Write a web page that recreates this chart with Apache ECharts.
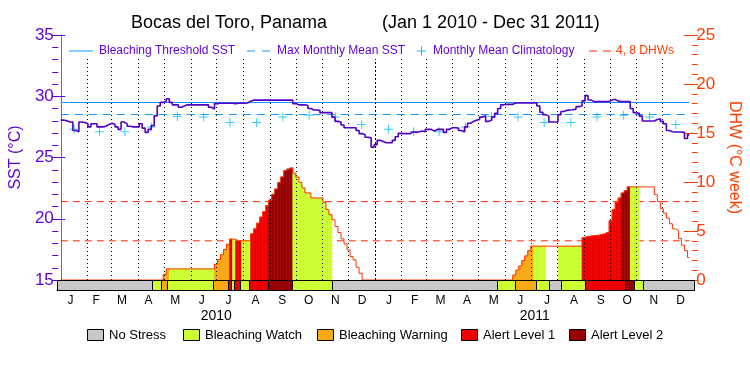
<!DOCTYPE html>
<html><head><meta charset="utf-8">
<script src="https://cdn.jsdelivr.net/npm/echarts@6/dist/echarts.min.js"></script>
<style>html,body{margin:0;padding:0;background:#fff}#chart{width:750px;height:375px}</style>
</head><body><div id="chart"></div>
<script>
// ---------------- data (twice-weekly samples from 2010-01-01) ----------------
const sampleStepDays = 3.5;
const totalDays = 730;
const sst = [
28.05,28.0,27.9,27.9,27.2,27.1,27.9,27.85,27.75,27.5,
27.75,27.75,27.5,27.5,27.55,27.7,27.8,27.7,27.5,27.3,
27.9,27.75,27.55,27.5,27.5,27.5,27.75,27.4,27.05,27.3,
27.6,28.4,29.2,29.5,29.6,29.8,29.5,29.3,29.3,29.1,
29.2,29.3,29.3,29.3,29.3,29.3,29.3,29.3,29.3,29.1,
28.95,29.4,29.43,29.43,29.43,29.43,29.43,29.4,29.43,29.43,
29.43,29.45,29.6,29.68,29.68,29.68,29.68,29.68,29.68,29.68,
29.68,29.68,29.68,29.68,29.68,29.68,29.68,29.4,29.3,29.3,
29.3,29.25,29.0,28.88,28.88,28.85,28.66,28.66,28.66,28.66,
28.3,27.95,27.9,27.65,27.43,27.43,27.43,27.43,27.2,26.95,
26.85,26.65,26.6,25.85,26.05,26.4,26.3,26.2,26.2,26.2,
26.4,26.7,26.97,26.95,26.95,26.95,27.1,27.05,27.1,27.16,
27.1,27.3,27.3,27.15,27.3,27.3,27.3,27.05,27.3,27.43,
27.43,27.4,27.2,27.08,27.5,27.8,27.95,28.05,28.1,28.3,
28.4,27.95,28.05,28.3,28.6,29.0,29.3,29.34,29.34,29.34,
29.45,29.45,29.45,29.45,29.45,29.45,29.45,29.45,29.2,28.7,
28.5,28.38,27.9,27.9,27.9,28.5,28.75,28.85,28.88,28.9,
28.95,29.15,29.2,29.62,30.05,29.7,29.56,29.56,29.56,29.56,
29.56,29.56,29.7,29.75,29.6,29.56,29.56,29.56,29.56,29.0,
28.66,28.6,28.38,27.98,27.98,27.98,27.98,28.1,28.17,27.95,
27.75,27.2,27.1,27.08,27.08,27.08,27.05,26.55,26.85
];
const dhw = [
0,0,0,0,0,0,0,0,0,0, 0,0,0,0,0,0,0,0,0,0, 0,0,0,0,0,0,0,0,0,0,
0,0,0,0,0.58,1.13,1.13,1.13,1.13,1.13, 1.13,1.13,1.13,1.13,1.13,1.13,1.13,1.13,1.13,1.13,
1.13,1.6,2.1,2.6,3.1,3.65,4.17,4.17,4.0,4.0, 4.0,4.0,4.0,4.71,5.22,5.8,6.42,6.97,7.58,8.16,
8.74,9.29,9.94,10.52,11.17,11.34,11.44,10.9,10.5,9.97, 9.4,8.88,8.88,8.37,8.37,8.37,8.37,7.92,7.17,6.66,
6.15,5.46,4.85,4.2,3.69,3.07,2.39,2.05,1.3,0.69,
0,0,0,0,0,0,0,0,0,0, 0,0,0,0,0,0,0,0,0,0, 0,0,0,0,0,0,0,0,0,0,
0,0,0,0,0,0,0,0,0,0, 0,0,0,0,0,0,0,0,0,0,
0.51,0.99,1.43,1.98,2.46,3.0,3.45,3.45,3.45,3.45, 3.45,3.45,3.45,3.45,3.45,3.45,3.45,3.45,3.45,3.45,
3.45,3.45,3.45,4.34,4.4,4.47,4.51,4.54,4.58,4.65, 4.71,4.85,6.04,7.17,7.92,8.37,8.88,9.12,9.5,9.5,
9.5,9.5,9.5,9.5,9.5,9.5,9.5,8.7,8.02,7.27, 6.83,6.32,5.74,5.22,5.05,4.23,3.55,3.0,2.3
];
// 0 No Stress, 1 Bleaching Watch, 2 Bleaching Warning, 3 Alert Level 1, 4 Alert Level 2
const alertStatus = [
0,0,0,0,0,0,0,0,0,0, 0,0,0,0,0,0,0,0,0,0, 0,0,0,0,0,0,0,0,0,0,
0,1,1,1,2,2,1,1,1,1, 1,1,1,1,1,1,1,1,1,1, 1,2,2,2,2,2,3,1,3,3,
1,1,1,3,3,3,3,3,3,4, 4,4,4,4,4,4,4,1,1,1, 1,1,1,1,1,1,1,1,1,1,
0,0,0,0,0,0,0,0,0,0, 0,0,0,0,0,0,0,0,0,0, 0,0,0,0,0,0,0,0,0,0,
0,0,0,0,0,0,0,0,0,0, 0,0,0,0,0,0,0,0,0,0, 0,0,0,0,1,1,1,1,1,1,
2,2,2,2,2,2,2,1,1,1, 1,0,0,0,0,1,1,1,1,1, 1,1,1,3,3,3,3,3,3,3,
3,3,3,3,3,3,4,4,4,1, 1,1,0,0,0,0,0,0,0,0, 0,0,0,0,0,0,0,0,0
];
const climatology = [27.3,27.1,27.1,27.5,28.35,28.3,27.85,27.85,28.3,28.45,28.3,27.7];
const bleachingThreshold = 29.5;
const maxMonthlyMean = 28.5;
const dhwRefLevels = [4, 8];
const monthLetters = ['J','F','M','A','M','J','J','A','S','O','N','D'];
const yearLabels = ['2010','2011'];
const statusNames = ['No Stress','Bleaching Watch','Bleaching Warning','Alert Level 1','Alert Level 2'];

// ---------------- styles ----------------
const statusColors = ['#c8c8c8','#ccff33','#faa814','#ee0000','#990000'];
const PURPLE = '#5f00d4', SSTLINE = '#5200c4', ORANGE = '#ff3c00', DHWLINE = '#ff3300';
const BLUE = '#0f96ff', CYAN = '#00c3ff', REFRED = '#ff2400';
const FONT = '"Liberation Sans", Arial, sans-serif';
const GRID_L = 57, GRID_R = 56, GRID_W = 750 - GRID_L - GRID_R;

// ---------------- derived (time axis in days since 2010-01-01) ----------------
const DAY = 86400000, T0 = Date.UTC(2010, 0, 1);
const monthStarts = [];
for (let y = 2010; y <= 2011; y++) for (let m = 0; m < 12; m++) monthStarts.push((Date.UTC(y, m, 1) - T0) / DAY);
monthStarts.push(totalDays);
const monthMids = monthStarts.slice(0, 24).map((d, k) => (d + monthStarts[k + 1]) / 2);
const yearStarts = [0, 365, 730];
const yearMids = [0, 1].map(k => (yearStarts[k] + yearStarts[k + 1]) / 2);
const tOf = i => Math.min(i * sampleStepDays, totalDays);

const sstData = sst.map((v, i) => [tOf(i), v]);
sstData.push([totalDays, sst[sst.length - 1]]);
const dhwData = dhw.map((v, i) => [tOf(i), v]);
dhwData.push([totalDays, dhw[dhw.length - 1]]);
const fillData = dhw.map((v, i) => [tOf(i), tOf(i + 1), v, alertStatus[i]]);
const runs = [];
alertStatus.forEach((s, i) => {
  const a = tOf(i), b = tOf(i + 1);
  if (runs.length && runs[runs.length - 1][2] === s) runs[runs.length - 1][1] = b;
  else runs.push([a, b, s]);
});
const climData = monthMids.map((d, k) => [d, climatology[k % 12]]);

const monthLines = monthStarts.slice(1, 24).map(d => [
  { coord: [d, 15], lineStyle: { type: d === 365 ? [2, 2] : [1, 3], color: '#000', width: 1 } },
  { coord: [d, 33.05] }
]);

const chart = echarts.init(document.getElementById('chart'), null, { renderer: 'canvas' });

const legendTop = [
  { type: 'line', shape: { x1: 69, y1: 51, x2: 93, y2: 51 }, style: { stroke: BLUE, lineWidth: 1 } },
  { type: 'text', style: { text: 'Bleaching Threshold SST', x: 99, y: 51, verticalAlign: 'middle', fill: PURPLE, font: '12px ' + FONT } },
  { type: 'line', shape: { x1: 247, y1: 51, x2: 271, y2: 51 }, style: { stroke: BLUE, lineWidth: 1, lineDash: [8, 7] } },
  { type: 'text', style: { text: 'Max Monthly Mean SST', x: 277, y: 51, verticalAlign: 'middle', fill: PURPLE, font: '12px ' + FONT } },
  { type: 'line', shape: { x1: 417, y1: 51, x2: 426, y2: 51 }, style: { stroke: CYAN, lineWidth: 1 } },
  { type: 'line', shape: { x1: 421.5, y1: 46.5, x2: 421.5, y2: 55.5 }, style: { stroke: CYAN, lineWidth: 1 } },
  { type: 'text', style: { text: 'Monthly Mean Climatology', x: 433, y: 51, verticalAlign: 'middle', fill: PURPLE, font: '12px ' + FONT } },
  { type: 'line', shape: { x1: 589, y1: 51, x2: 611, y2: 51 }, style: { stroke: REFRED, lineWidth: 1, lineDash: [8, 6] } },
  { type: 'text', style: { text: '4, 8 DHWs', x: 616, y: 51, verticalAlign: 'middle', fill: ORANGE, font: '12px ' + FONT } }
];
const boxX = [87.5, 183.5, 317.5, 461.5, 569.5];
const legendBottom = [];
statusNames.forEach((n, k) => {
  legendBottom.push({ type: 'rect', shape: { x: boxX[k], y: 329.5, width: 16, height: 11 }, style: { fill: statusColors[k], stroke: '#000', lineWidth: 1 } });
  legendBottom.push({ type: 'text', style: { text: n, x: boxX[k] + 21.5, y: 335.5, verticalAlign: 'middle', fill: '#000', font: '13px ' + FONT } });
});

const yMain = (color) => ({
  axisLine: { show: true, lineStyle: { color, width: 1 } },
  axisTick: { show: false },
  splitLine: { show: false },
  axisLabel: { color, fontSize: 17, fontFamily: FONT, margin: 7 },
  nameLocation: 'middle',
  nameTextStyle: { color, fontSize: 16, fontFamily: FONT }
});
// tick-only axes placed on the opposite edge so that their ticks point into the plot
const yTicks = (color, position, min, max, interval, length) => ({
  gridIndex: 0, type: 'value', position, offset: -GRID_W, min, max, interval,
  axisLine: { show: false },
  axisTick: { show: true, length, lineStyle: { color, width: 1 } },
  axisLabel: { show: false },
  splitLine: { show: false }
});

// DHW reference lines (4 and 8 DHW) as flat series across the whole period
const refSeries = dhwRefLevels.map(v => ({
  type: 'line', xAxisIndex: 0, yAxisIndex: 1, z: 1, silent: true, symbol: 'none',
  data: [[0, v], [totalDays, v]],
  lineStyle: { color: REFRED, width: 1, type: [7, 5] }
}));

chart.setOption({
  animation: false,
  backgroundColor: '#fff',
  title: [
    { text: 'Bocas del Toro, Panama', left: 126, top: 9, textStyle: { fontSize: 18, fontWeight: 'normal', color: '#000', fontFamily: FONT } },
    { text: '(Jan 1 2010 - Dec 31 2011)', left: 377, top: 9, textStyle: { fontSize: 18, fontWeight: 'normal', color: '#000', fontFamily: FONT } }
  ],
  grid: [
    { left: GRID_L, right: GRID_R, top: 35, height: 245 },
    { left: GRID_L, right: GRID_R, top: 280, height: 10 },
    { left: GRID_L, right: GRID_R, top: 280, height: 10 }
  ],
  xAxis: [
    { gridIndex: 0, type: 'value', min: 0, max: totalDays, show: false },
    { gridIndex: 1, type: 'value', min: 0, max: totalDays, position: 'bottom',
      axisLine: { show: true, lineStyle: { color: '#000' } }, axisTick: { show: false }, splitLine: { show: false },
      axisLabel: { customValues: monthMids, margin: 5, fontSize: 12, fontFamily: FONT, color: '#000',
        formatter: (v) => { const k = monthMids.findIndex(m => Math.abs(m - v) < 0.01); return k < 0 ? '' : monthLetters[k % 12]; } } },
    { gridIndex: 2, type: 'value', min: 0, max: totalDays, position: 'bottom',
      axisLine: { show: false }, axisTick: { show: false }, splitLine: { show: false },
      axisLabel: { customValues: yearMids, margin: 19, fontSize: 14, fontFamily: FONT, color: '#000',
        formatter: (v) => { const k = yearMids.findIndex(m => Math.abs(m - v) < 0.01); return k < 0 ? '' : yearLabels[k]; } } },
    { gridIndex: 0, type: 'value', min: 0, max: totalDays, position: 'top',
      axisLine: { show: true, lineStyle: { color: '#000' } }, axisTick: { show: false }, axisLabel: { show: false }, splitLine: { show: false } }
  ],
  yAxis: [
    Object.assign(yMain(PURPLE), { gridIndex: 0, type: 'value', position: 'left', min: 15, max: 35, interval: 5, name: 'SST (°C)', nameGap: 31 }),
    Object.assign(yMain(ORANGE), { gridIndex: 0, type: 'value', position: 'right', min: 0, max: 25, interval: 5, name: 'DHW (°C week)', nameGap: 26, nameRotate: -90 }),
    { gridIndex: 1, type: 'value', min: 0, max: 1, show: false },
    { gridIndex: 2, type: 'value', min: 0, max: 1, show: false },
    yTicks(PURPLE, 'right', 15, 35, 1, 6),
    yTicks(PURPLE, 'right', 15, 35, 5, 13),
    yTicks(ORANGE, 'left', 0, 25, 1, 6),
    yTicks(ORANGE, 'left', 0, 25, 5, 14)
  ],
  series: refSeries.concat([
    { // alert-level fill under DHW
      type: 'custom', xAxisIndex: 0, yAxisIndex: 1, z: 2, silent: true,
      data: fillData, encode: { x: [0, 1], y: 2 },
      renderItem: (params, api) => {
        const s = api.value(3), v = api.value(2);
        if (!s || !v) return null;
        const a = api.coord([api.value(0), v]);
        const b = api.coord([api.value(1), 0]);
        return { type: 'rect', shape: { x: a[0], y: a[1], width: b[0] - a[0], height: b[1] - a[1] },
          style: { fill: statusColors[s], stroke: statusColors[s], lineWidth: 0.6 } };
      }
    },
    { // DHW outline
      type: 'line', name: 'DHW', xAxisIndex: 0, yAxisIndex: 1, z: 5, silent: true,
      data: dhwData, step: 'end', symbol: 'none', color: DHWLINE, lineStyle: { color: DHWLINE, width: 1 }
    },
    { // climatology
      type: 'scatter', name: 'Monthly Mean Climatology', xAxisIndex: 0, yAxisIndex: 0, z: 4, silent: true,
      data: climData, symbol: 'path://M4,0h1v9h-1zM0,4h9v1h-9z', symbolSize: 9, itemStyle: { color: CYAN }
    },
    { // SST
      type: 'line', name: 'SST', xAxisIndex: 0, yAxisIndex: 0, z: 6, silent: true,
      data: sstData, step: 'end', symbol: 'none', lineStyle: { color: SSTLINE, width: 1.6 },
      markLine: { z: 3, silent: true, symbol: ['none', 'none'], label: { show: false },
        data: [
          { yAxis: bleachingThreshold, lineStyle: { color: BLUE, width: 1, type: 'solid' } },
          { yAxis: maxMonthlyMean, lineStyle: { color: BLUE, width: 1, type: [8, 6] } }
        ].concat(monthLines) }
    },
    { // status bar
      type: 'custom', xAxisIndex: 1, yAxisIndex: 2, z: 10, silent: true,
      data: runs, encode: { x: [0, 1] },
      renderItem: (params, api) => {
        const p0 = api.coord([api.value(0), 1]);
        const p1 = api.coord([api.value(1), 0]);
        const x0 = Math.round(p0[0]), x1 = Math.round(p1[0]), y0 = Math.round(p0[1]), y1 = Math.round(p1[1]);
        return { type: 'rect', shape: { x: x0 + 0.5, y: y0 + 0.5, width: x1 - x0, height: y1 - y0 },
          style: { fill: statusColors[api.value(2)], stroke: '#000', lineWidth: 1 } };
      }
    }
  ]),
  graphic: legendTop.concat(legendBottom).map(e => Object.assign({ z: 100, silent: true }, e))
});
</script></body></html>
